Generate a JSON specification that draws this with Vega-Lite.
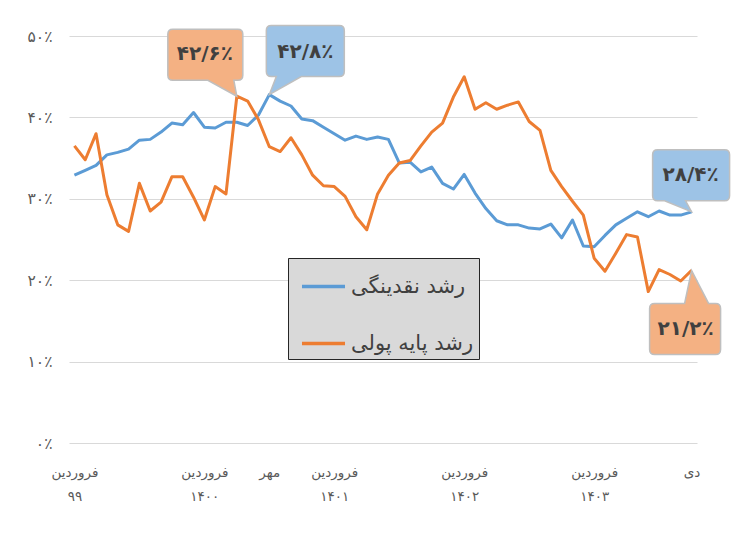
{
  "$schema": "https://vega.github.io/schema/vega-lite/v6.json",
  "width": 628,
  "height": 407,
  "autosize": {"type": "none"},
  "padding": {"left": 69, "top": 36, "right": 55, "bottom": 98},
  "background": "white",
  "config": {"view": {"stroke": null}, "font": "DejaVu Sans"},
  "data": {"values": [
    {"m":0,"s":"رشد نقدینگی","v":32.9},{"m":1,"s":"رشد نقدینگی","v":33.5},{"m":2,"s":"رشد نقدینگی","v":34.1},{"m":3,"s":"رشد نقدینگی","v":35.4},{"m":4,"s":"رشد نقدینگی","v":35.7},{"m":5,"s":"رشد نقدینگی","v":36.1},{"m":6,"s":"رشد نقدینگی","v":37.2},{"m":7,"s":"رشد نقدینگی","v":37.3},{"m":8,"s":"رشد نقدینگی","v":38.2},{"m":9,"s":"رشد نقدینگی","v":39.3},{"m":10,"s":"رشد نقدینگی","v":39.1},{"m":11,"s":"رشد نقدینگی","v":40.6},{"m":12,"s":"رشد نقدینگی","v":38.8},{"m":13,"s":"رشد نقدینگی","v":38.7},{"m":14,"s":"رشد نقدینگی","v":39.4},{"m":15,"s":"رشد نقدینگی","v":39.4},{"m":16,"s":"رشد نقدینگی","v":39.0},{"m":17,"s":"رشد نقدینگی","v":40.3},{"m":18,"s":"رشد نقدینگی","v":42.8},{"m":19,"s":"رشد نقدینگی","v":42.0},{"m":20,"s":"رشد نقدینگی","v":41.4},{"m":21,"s":"رشد نقدینگی","v":39.8},{"m":22,"s":"رشد نقدینگی","v":39.6},{"m":23,"s":"رشد نقدینگی","v":38.8},{"m":24,"s":"رشد نقدینگی","v":38.0},{"m":25,"s":"رشد نقدینگی","v":37.2},{"m":26,"s":"رشد نقدینگی","v":37.7},{"m":27,"s":"رشد نقدینگی","v":37.3},{"m":28,"s":"رشد نقدینگی","v":37.6},{"m":29,"s":"رشد نقدینگی","v":37.3},{"m":30,"s":"رشد نقدینگی","v":34.4},{"m":31,"s":"رشد نقدینگی","v":34.5},{"m":32,"s":"رشد نقدینگی","v":33.3},{"m":33,"s":"رشد نقدینگی","v":33.9},{"m":34,"s":"رشد نقدینگی","v":31.9},{"m":35,"s":"رشد نقدینگی","v":31.2},{"m":36,"s":"رشد نقدینگی","v":33.0},{"m":37,"s":"رشد نقدینگی","v":30.7},{"m":38,"s":"رشد نقدینگی","v":28.8},{"m":39,"s":"رشد نقدینگی","v":27.3},{"m":40,"s":"رشد نقدینگی","v":26.8},{"m":41,"s":"رشد نقدینگی","v":26.8},{"m":42,"s":"رشد نقدینگی","v":26.4},{"m":43,"s":"رشد نقدینگی","v":26.3},{"m":44,"s":"رشد نقدینگی","v":26.9},{"m":45,"s":"رشد نقدینگی","v":25.2},{"m":46,"s":"رشد نقدینگی","v":27.4},{"m":47,"s":"رشد نقدینگی","v":24.2},{"m":48,"s":"رشد نقدینگی","v":24.1},{"m":49,"s":"رشد نقدینگی","v":25.5},{"m":50,"s":"رشد نقدینگی","v":26.8},{"m":51,"s":"رشد نقدینگی","v":27.6},{"m":52,"s":"رشد نقدینگی","v":28.4},{"m":53,"s":"رشد نقدینگی","v":27.8},{"m":54,"s":"رشد نقدینگی","v":28.5},{"m":55,"s":"رشد نقدینگی","v":28.0},{"m":56,"s":"رشد نقدینگی","v":28.0},{"m":57,"s":"رشد نقدینگی","v":28.4},
    {"m":0,"s":"رشد پایه پولی","v":36.5},{"m":1,"s":"رشد پایه پولی","v":34.8},{"m":2,"s":"رشد پایه پولی","v":38.0},{"m":3,"s":"رشد پایه پولی","v":30.5},{"m":4,"s":"رشد پایه پولی","v":26.8},{"m":5,"s":"رشد پایه پولی","v":26.0},{"m":6,"s":"رشد پایه پولی","v":31.9},{"m":7,"s":"رشد پایه پولی","v":28.5},{"m":8,"s":"رشد پایه پولی","v":29.6},{"m":9,"s":"رشد پایه پولی","v":32.7},{"m":10,"s":"رشد پایه پولی","v":32.7},{"m":11,"s":"رشد پایه پولی","v":30.2},{"m":12,"s":"رشد پایه پولی","v":27.4},{"m":13,"s":"رشد پایه پولی","v":31.5},{"m":14,"s":"رشد پایه پولی","v":30.6},{"m":15,"s":"رشد پایه پولی","v":42.6},{"m":16,"s":"رشد پایه پولی","v":42.0},{"m":17,"s":"رشد پایه پولی","v":39.7},{"m":18,"s":"رشد پایه پولی","v":36.4},{"m":19,"s":"رشد پایه پولی","v":35.8},{"m":20,"s":"رشد پایه پولی","v":37.5},{"m":21,"s":"رشد پایه پولی","v":35.4},{"m":22,"s":"رشد پایه پولی","v":32.9},{"m":23,"s":"رشد پایه پولی","v":31.6},{"m":24,"s":"رشد پایه پولی","v":31.5},{"m":25,"s":"رشد پایه پولی","v":30.3},{"m":26,"s":"رشد پایه پولی","v":27.8},{"m":27,"s":"رشد پایه پولی","v":26.2},{"m":28,"s":"رشد پایه پولی","v":30.6},{"m":29,"s":"رشد پایه پولی","v":32.9},{"m":30,"s":"رشد پایه پولی","v":34.4},{"m":31,"s":"رشد پایه پولی","v":34.7},{"m":32,"s":"رشد پایه پولی","v":36.5},{"m":33,"s":"رشد پایه پولی","v":38.2},{"m":34,"s":"رشد پایه پولی","v":39.3},{"m":35,"s":"رشد پایه پولی","v":42.5},{"m":36,"s":"رشد پایه پولی","v":45.0},{"m":37,"s":"رشد پایه پولی","v":41.0},{"m":38,"s":"رشد پایه پولی","v":41.8},{"m":39,"s":"رشد پایه پولی","v":41.0},{"m":40,"s":"رشد پایه پولی","v":41.5},{"m":41,"s":"رشد پایه پولی","v":41.9},{"m":42,"s":"رشد پایه پولی","v":39.5},{"m":43,"s":"رشد پایه پولی","v":38.4},{"m":44,"s":"رشد پایه پولی","v":33.5},{"m":45,"s":"رشد پایه پولی","v":31.5},{"m":46,"s":"رشد پایه پولی","v":29.7},{"m":47,"s":"رشد پایه پولی","v":28.0},{"m":48,"s":"رشد پایه پولی","v":22.7},{"m":49,"s":"رشد پایه پولی","v":21.1},{"m":50,"s":"رشد پایه پولی","v":23.3},{"m":51,"s":"رشد پایه پولی","v":25.6},{"m":52,"s":"رشد پایه پولی","v":25.3},{"m":53,"s":"رشد پایه پولی","v":18.6},{"m":54,"s":"رشد پایه پولی","v":21.3},{"m":55,"s":"رشد پایه پولی","v":20.7},{"m":56,"s":"رشد پایه پولی","v":19.9},{"m":57,"s":"رشد پایه پولی","v":21.2}
  ]},
  "encoding": {
    "x": {"field": "m", "type": "quantitative",
      "scale": {"domain": [-0.5, 57.5], "nice": false, "zero": false},
      "axis": {"title": null, "values": [0, 12, 18, 24, 36, 48, 57], "grid": false, "domain": false, "ticks": false,
        "labelExpr": "datum.value == 0 ? ['فروردین', '۹۹'] : datum.value == 12 ? ['فروردین', '۱۴۰۰'] : datum.value == 18 ? 'مهر' : datum.value == 24 ? ['فروردین', '۱۴۰۱'] : datum.value == 36 ? ['فروردین', '۱۴۰۲'] : datum.value == 48 ? ['فروردین', '۱۴۰۳'] : 'دی'",
        "labelFontSize": 13.5, "labelColor": "#595959", "labelPadding": 22, "labelLineHeight": 24,
        "labelOverlap": false, "labelFlush": false, "labelBound": false, "labelFont": "DejaVu Sans"}},
    "y": {"field": "v", "type": "quantitative",
      "scale": {"domain": [0, 50], "nice": false},
      "axis": {"title": null, "values": [0, 10, 20, 30, 40, 50], "grid": true, "gridColor": "#d9d9d9", "gridWidth": 1,
        "domain": false, "ticks": false, "labelPadding": 17, "labelFontSize": 15.5, "labelColor": "#595959", "labelFont": "DejaVu Sans",
        "labelExpr": "replace(replace(replace(replace(replace(replace(toString(datum.value), '0', '۰'), '1', '۱'), '2', '۲'), '3', '۳'), '4', '۴'), '5', '۵') + '٪'"}}
  },
  "layer": [
    {
      "mark": {"type": "line", "strokeWidth": 3, "strokeJoin": "round"},
      "encoding": {
        "color": {"field": "s", "type": "nominal",
          "scale": {"domain": ["رشد نقدینگی", "رشد پایه پولی"], "range": ["#5b9bd5", "#ed7d31"]},
          "legend": {"orient": "none", "legendX": 219, "legendY": 222, "title": null,
            "fillColor": "#d9d9d9", "strokeColor": "#262626", "padding": 5, "rowPadding": 23, "symbolOffset": 7,
            "symbolType": "stroke", "symbolStrokeWidth": 3.5, "symbolSize": 1850,
            "labelFontSize": 21, "labelColor": "#404040", "labelFont": "DejaVu Sans", "labelLimit": 300, "labelOffset": 4}}
      }
    },
    {
      "transform": [{"filter": "datum.m == 15 && datum.s == 'رشد پایه پولی'"}],
      "mark": {"type": "point", "shape": "M -64 -67 L 1 -67 Q 6 -67 6 -62 L 6 -21 Q 6 -16 1 -16 L -3 -16 L 0 0 L -29 -16 L -64 -16 Q -69 -16 -69 -21 L -69 -62 Q -69 -67 -64 -67 Z",
        "size": 4, "filled": true, "fill": "#f4b183", "stroke": "#bfbfbf", "strokeWidth": 1.5, "opacity": 1}
    },
    {
      "transform": [{"filter": "datum.m == 18 && datum.s == 'رشد نقدینگی'"}],
      "mark": {"type": "point", "shape": "M 2 -69 L 70 -69 Q 75 -69 75 -64 L 75 -23 Q 75 -18 70 -18 L 32 -18 L 0 0 L 7 -18 L 2 -18 Q -3 -18 -3 -23 L -3 -64 Q -3 -69 2 -69 Z",
        "size": 4, "filled": true, "fill": "#9dc3e6", "stroke": "#bfbfbf", "strokeWidth": 1.5, "opacity": 1}
    },
    {
      "transform": [{"filter": "datum.m == 57 && datum.s == 'رشد نقدینگی'"}],
      "mark": {"type": "point", "shape": "M -34 -62 L 33 -62 Q 38 -62 38 -57 L 38 -16 Q 38 -11 33 -11 L -6 -11 L 0 0 L -27 -11 L -34 -11 Q -39 -11 -39 -16 L -39 -57 Q -39 -62 -34 -62 Z",
        "size": 4, "filled": true, "fill": "#9dc3e6", "stroke": "#bfbfbf", "strokeWidth": 1.5, "opacity": 1}
    },
    {
      "transform": [{"filter": "datum.m == 57 && datum.s == 'رشد پایه پولی'"}],
      "mark": {"type": "point", "shape": "M -37 33 L -7 33 L 0 0 L 17 33 L 24 33 Q 29 33 29 38 L 29 79 Q 29 84 24 84 L -37 84 Q -42 84 -42 79 L -42 38 Q -42 33 -37 33 Z",
        "size": 4, "filled": true, "fill": "#f4b183", "stroke": "#bfbfbf", "strokeWidth": 1.5, "opacity": 1}
    },
    {
      "transform": [{"filter": "datum.m == 15 && datum.s == 'رشد پایه پولی'"}],
      "mark": {"type": "text", "text": "۴۲/۶٪", "dx": -32, "dy": -42, "fontSize": 20, "fontWeight": "bold", "fill": "#404040", "font": "DejaVu Sans"}
    },
    {
      "transform": [{"filter": "datum.m == 18 && datum.s == 'رشد نقدینگی'"}],
      "mark": {"type": "text", "text": "۴۲/۸٪", "dx": 36, "dy": -43, "fontSize": 20, "fontWeight": "bold", "fill": "#404040", "font": "DejaVu Sans"}
    },
    {
      "transform": [{"filter": "datum.m == 57 && datum.s == 'رشد نقدینگی'"}],
      "mark": {"type": "text", "text": "۲۸/۴٪", "dx": -1, "dy": -37, "fontSize": 20, "fontWeight": "bold", "fill": "#404040", "font": "DejaVu Sans"}
    },
    {
      "transform": [{"filter": "datum.m == 57 && datum.s == 'رشد پایه پولی'"}],
      "mark": {"type": "text", "text": "۲۱/۲٪", "dx": -6, "dy": 59, "fontSize": 20, "fontWeight": "bold", "fill": "#404040", "font": "DejaVu Sans"}
    }
  ]
}
